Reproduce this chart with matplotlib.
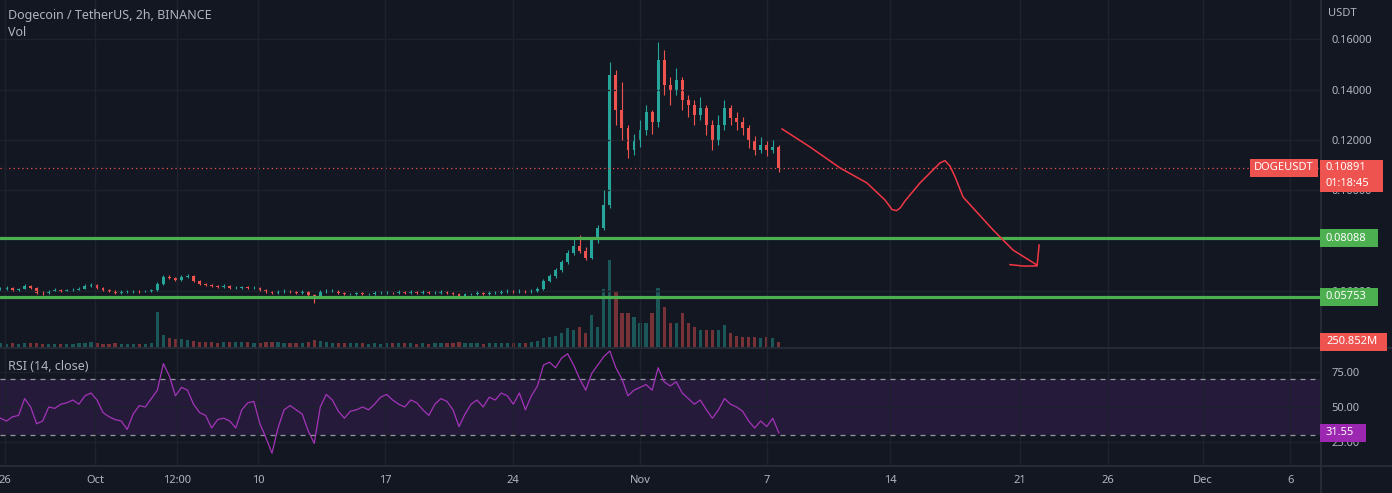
import matplotlib
matplotlib.use("Agg")
import matplotlib.pyplot as plt
import matplotlib.transforms as mtransforms
from matplotlib.patches import Rectangle
from matplotlib.lines import Line2D
from matplotlib.ticker import FormatStrFormatter
import numpy as np

plt.rcParams['font.family'] = ['Noto Sans', 'DejaVu Sans']

# 8h candles (DOGE/USDT)
first_open = 0.0606
close = [0.0608, 0.0612, 0.0604, 0.0608, 0.0620, 0.0612, 0.0592, 0.0590, 0.0600, 0.0604,
         0.0600, 0.0603, 0.0604, 0.0608, 0.0620, 0.0624, 0.0612, 0.0604, 0.0600, 0.0592,
         0.0596, 0.0596, 0.0600, 0.0597, 0.0600, 0.0601, 0.0628, 0.0656, 0.0652, 0.0644,
         0.0656, 0.0660, 0.0640, 0.0628, 0.0624, 0.0620, 0.0616, 0.0620, 0.0612, 0.0612,
         0.0616, 0.0612, 0.0612, 0.0604, 0.0596, 0.0592, 0.0596, 0.0600, 0.0596, 0.0592,
         0.0596, 0.0584, 0.0576, 0.0596, 0.0600, 0.0600, 0.0592, 0.0588, 0.0588, 0.0590,
         0.0588, 0.0588, 0.0592, 0.0592, 0.0592, 0.0590, 0.0596, 0.0592, 0.0596, 0.0592,
         0.0596, 0.0592, 0.0592, 0.0596, 0.0592, 0.0588, 0.0580, 0.0588, 0.0588, 0.0592,
         0.0588, 0.0592, 0.0592, 0.0596, 0.0600, 0.0596, 0.0600, 0.0596, 0.0600, 0.0608,
         0.0640, 0.0660, 0.0684, 0.0716, 0.0752, 0.0780, 0.0760, 0.0732, 0.0800, 0.0848,
         0.0940, 0.1460, 0.1320, 0.1248, 0.1160, 0.1200, 0.1240, 0.1312, 0.1272, 0.1520,
         0.1420, 0.1400, 0.1440, 0.1360, 0.1340, 0.1300, 0.1328, 0.1260, 0.1200, 0.1260,
         0.1328, 0.1288, 0.1272, 0.1248, 0.1200, 0.1160, 0.1180, 0.1160, 0.1172, 0.10891]
high = [0.0614, 0.0618, 0.0616, 0.0612, 0.0626, 0.0624, 0.0615, 0.0597, 0.0604, 0.0609,
        0.0608, 0.0607, 0.0609, 0.0613, 0.0626, 0.0630, 0.0627, 0.0615, 0.0608, 0.0603,
        0.0601, 0.0601, 0.0604, 0.0604, 0.0604, 0.0606, 0.0636, 0.0664, 0.0662, 0.0656,
        0.0662, 0.0666, 0.0664, 0.0644, 0.0632, 0.0628, 0.0624, 0.0625, 0.0623, 0.0617,
        0.0620, 0.0619, 0.0618, 0.0615, 0.0607, 0.0600, 0.0601, 0.0605, 0.0603, 0.0600,
        0.0601, 0.0599, 0.0588, 0.0601, 0.0606, 0.0605, 0.0603, 0.0596, 0.0593, 0.0595,
        0.0594, 0.0593, 0.0597, 0.0597, 0.0597, 0.0596, 0.0601, 0.0600, 0.0601, 0.0599,
        0.0602, 0.0599, 0.0597, 0.0601, 0.0600, 0.0596, 0.0591, 0.0592, 0.0593, 0.0597,
        0.0596, 0.0598, 0.0597, 0.0601, 0.0605, 0.0604, 0.0605, 0.0603, 0.0605, 0.0614,
        0.0648, 0.0668, 0.0692, 0.0724, 0.0764, 0.0812, 0.0820, 0.0776, 0.0812, 0.0860,
        0.1000, 0.1512, 0.1480, 0.1432, 0.1260, 0.1224, 0.1280, 0.1340, 0.1320, 0.1592,
        0.1560, 0.1450, 0.1488, 0.1452, 0.1380, 0.1360, 0.1370, 0.1340, 0.1280, 0.1300,
        0.1360, 0.1340, 0.1310, 0.1290, 0.1260, 0.1216, 0.1210, 0.1196, 0.1200, 0.1180]
low = [0.0601, 0.0604, 0.0600, 0.0600, 0.0605, 0.0608, 0.0586, 0.0585, 0.0587, 0.0597,
       0.0596, 0.0597, 0.0599, 0.0601, 0.0605, 0.0616, 0.0608, 0.0600, 0.0595, 0.0586,
       0.0589, 0.0592, 0.0592, 0.0593, 0.0594, 0.0596, 0.0598, 0.0624, 0.0646, 0.0638,
       0.0640, 0.0650, 0.0636, 0.0624, 0.0619, 0.0615, 0.0611, 0.0612, 0.0608, 0.0607,
       0.0608, 0.0607, 0.0607, 0.0599, 0.0590, 0.0586, 0.0589, 0.0592, 0.0591, 0.0587,
       0.0588, 0.0578, 0.0553, 0.0572, 0.0592, 0.0595, 0.0588, 0.0584, 0.0584, 0.0585,
       0.0584, 0.0584, 0.0585, 0.0588, 0.0587, 0.0586, 0.0587, 0.0588, 0.0589, 0.0588,
       0.0589, 0.0588, 0.0588, 0.0589, 0.0588, 0.0584, 0.0576, 0.0577, 0.0584, 0.0585,
       0.0584, 0.0585, 0.0588, 0.0589, 0.0592, 0.0592, 0.0592, 0.0592, 0.0593, 0.0596,
       0.0604, 0.0634, 0.0652, 0.0676, 0.0708, 0.0744, 0.0752, 0.0724, 0.0728, 0.0792,
       0.0840, 0.0930, 0.1260, 0.1200, 0.1128, 0.1140, 0.1172, 0.1220, 0.1224, 0.1250,
       0.1380, 0.1340, 0.1380, 0.1320, 0.1290, 0.1260, 0.1280, 0.1220, 0.1160, 0.1180,
       0.1240, 0.1260, 0.1240, 0.1220, 0.1170, 0.1140, 0.1148, 0.1136, 0.1150, 0.1072]
volume_m = [180, 170, 190, 160, 200, 180, 210, 170, 160, 170,
            160, 150, 170, 180, 220, 240, 190, 170, 160, 180,
            170, 160, 170, 160, 170, 180, 1750, 600, 450, 380,
            420, 360, 300, 260, 240, 230, 220, 240, 260, 230,
            250, 230, 220, 210, 230, 260, 240, 220, 210, 200,
            220, 260, 340, 280, 230, 210, 200, 190, 180, 190,
            180, 170, 180, 170, 180, 190, 200, 190, 180, 170,
            180, 170, 180, 190, 200, 210, 260, 220, 190, 180,
            170, 180, 190, 200, 190, 180, 200, 220, 260, 300,
            450, 520, 560, 700, 950, 850, 1000, 700, 1600, 1000,
            2900, 4350, 2800, 1700, 1700, 1500, 1200, 1200, 1700, 2950,
            2000, 1200, 1200, 1700, 1200, 1000, 850, 850, 850, 850,
            1100, 700, 550, 500, 500, 500, 450, 500, 450, 250.852]
rsi = [42, 40, 43, 44, 56, 50, 38, 40, 50, 49,
       52, 53, 55, 52, 58, 60, 55, 46, 43, 41,
       40, 34, 45, 51, 50, 56, 62, 81, 72, 58,
       64, 62, 52, 46, 44, 35, 41, 42, 40, 35,
       48, 53, 54, 38, 28, 17, 35, 48, 51, 48,
       45, 33, 24, 50, 59, 55, 47, 42, 47, 48,
       50, 48, 52, 57, 59, 55, 52, 50, 55, 53,
       48, 44, 52, 56, 54, 48, 36, 45, 52, 55,
       50, 57, 55, 60, 58, 52, 60, 48, 58, 65,
       80, 82, 78, 85, 88, 80, 70, 62, 74, 80,
       86, 90, 78, 70, 58, 62, 64, 66, 62, 78,
       68, 65, 68, 60, 56, 52, 55, 48, 42, 48,
       56, 52, 50, 47, 40, 35, 40, 36, 42, 31.55]

# x axis labels (days from Sep 26)
tick_days = [0, 4.97, 9.5, 13.98, 21.0, 28.07, 35.08, 42.1, 48.9, 56.08, 60.94, 66.19, 71.0]
tick_labels = ['26', 'Oct', '12:00', '10', '17', '24', 'Nov', '7', '14', '21', '26', 'Dec', '6']

price_ticks = [0.06, 0.10, 0.12, 0.14, 0.16]   # 0.08000 is hidden behind a tag
support_levels = [0.08088, 0.05753]
last_price = 0.10891
countdown = '01:18:45'

# hand drawn projection (day, price)
sketch_day = [42.93, 44.48, 46.13, 47.62, 48.62, 49.01, 49.25, 49.45, 49.72, 50.55, 51.66,
              51.93, 52.21, 52.49, 52.93, 54.59, 55.69, 57.02]
sketch_price = [0.1244, 0.1172, 0.1089, 0.1029, 0.0961, 0.0923, 0.0919, 0.0929, 0.0957, 0.1029, 0.1109,
                0.1118, 0.1096, 0.1053, 0.0973, 0.0842, 0.0762, 0.0702]
arrow_day = [55.52, 56.3, 57.02, 57.13]
arrow_price = [0.0704, 0.0698, 0.0699, 0.0782]

BG = '#131722'
GRID = '#1e222d'
SEP = '#2a2e39'
TXT = '#b2b5be'
UP = '#26a69a'
DN = '#ef5350'
GREEN = '#4caf50'
PURPLE = '#9c27b0'

W, H = 1392, 493
n = len(close)
x = -0.25 + np.arange(n) / 3.0
opens = np.array([first_open] + close[:-1])
close_a = np.array(close)
up = close_a >= opens
cols = np.where(up, UP, DN)

fig = plt.figure(figsize=(W / 100, H / 100), dpi=100, facecolor=BG)
ax = fig.add_axes([0, 1 - 347 / H, 1320 / W, 347 / H])
axr = fig.add_axes([0, 1 - 465 / H, 1320 / W, 116 / H], sharex=ax)
axv = ax.twinx()
ax.set_zorder(axv.get_zorder() + 1)
ax.patch.set_visible(False)
axr.set_facecolor(BG)

# volume
axv.bar(x, volume_m, width=0.18, color=cols, alpha=0.45, linewidth=0)
axv.set_ylim(0, 17350)
axv.set_yticks([])
for s in axv.spines.values():
    s.set_visible(False)

# candles
ax.vlines(x, low, high, colors=cols, linewidth=0.8)
ax.bar(x, np.abs(close_a - opens), bottom=np.minimum(close_a, opens), width=0.16,
       color=cols, linewidth=0)

for lv in support_levels:
    ax.axhline(lv, color=GREEN, linewidth=2.3, zorder=4)
ax.axhline(last_price, color=DN, linewidth=0.9, linestyle=(0, (1, 2.5)), zorder=1)
ax.plot(sketch_day, sketch_price, color='#f23645', linewidth=1.1, zorder=5)
ax.plot(arrow_day, arrow_price, color='#f23645', linewidth=1.1, zorder=5)

ax.set_xlim(-0.276, 72.65)
ax.set_ylim(0.03761, 0.17572)
ax.yaxis.tick_right()
ax.set_yticks(price_ticks)
ax.yaxis.set_major_formatter(FormatStrFormatter('%.5f'))
ax.tick_params(axis='y', length=0, pad=8, labelcolor=TXT, labelsize=8)
ax.tick_params(axis='x', length=0, labelbottom=False)
ax.set_xticks(tick_days)
ax.grid(True, color=GRID, linewidth=1)
for s in ax.spines.values():
    s.set_visible(False)

# RSI pane
axr.axhspan(30, 70, color='#261a3b', zorder=0, linewidth=0)
axr.axhline(70, color='#9598a1', linewidth=0.9, linestyle=(0, (4, 4)), zorder=2)
axr.axhline(30, color='#9598a1', linewidth=0.9, linestyle=(0, (4, 4)), zorder=2)
axr.plot(x, rsi, color='#a334b8', linewidth=0.9, zorder=3)
axr.set_ylim(8.57, 91.43)
axr.yaxis.tick_right()
axr.set_yticks([25, 50, 75])
axr.yaxis.set_major_formatter(FormatStrFormatter('%.2f'))
axr.tick_params(axis='y', length=0, pad=8, labelcolor=TXT, labelsize=8)
axr.set_xticks(tick_days)
axr.set_xticklabels(tick_labels)
axr.tick_params(axis='x', length=0, pad=7, labelcolor=TXT, labelsize=8)
axr.grid(True, color=GRID, linewidth=1)
for s in axr.spines.values():
    s.set_visible(False)

# pane separators
for yy in (1 - 348 / H, 1 - 465.5 / H):
    fig.add_artist(Line2D([0, 1], [yy, yy], color=SEP, linewidth=1.2))
fig.add_artist(Line2D([1320.5 / W, 1320.5 / W], [0, 1], color=SEP, linewidth=1.2))

# titles
fig.text(8 / W, 1 - 15 / H, 'Dogecoin / TetherUS, 2h, BINANCE', color=TXT, fontsize=9, va='center')
fig.text(8 / W, 1 - 33 / H, 'Vol', color=TXT, fontsize=9, va='center')
fig.text(8 / W, 1 - 366 / H, 'RSI (14, close)', color=TXT, fontsize=9, va='center')
fig.text(1328 / W, 1 - 14 / H, 'USDT', color=TXT, fontsize=8, va='center')

# value tags on the scale
fig.canvas.draw()
ident = mtransforms.IdentityTransform()


def tag(axis, value, label, color, x0, x1, up_px=9, down_px=9, text_x=None, ha='left'):
    y = axis.transData.transform((0, value))[1]
    fig.add_artist(Rectangle((x0, y - down_px), x1 - x0, up_px + down_px, transform=ident,
                             facecolor=color, edgecolor='none', zorder=20))
    tx = text_x if text_x is not None else x0 + 6
    fig.text(tx, y, label, transform=ident, color='white', fontsize=8, va='center', ha=ha,
             zorder=21)
    return y


tag(ax, last_price, 'DOGEUSDT', DN, 1250, 1318, text_x=1284, ha='center')
y_last = tag(ax, last_price, '%.5f' % last_price, DN, 1320, 1383, up_px=8, down_px=24)
fig.text(1326, y_last - 16, countdown, transform=ident, color='white', fontsize=8, va='center',
         zorder=21)
for lv in support_levels:
    tag(ax, lv, '%.5f' % lv, GREEN, 1320, 1378)
tag(axv, volume_m[-1], '250.852M', DN, 1320, 1387)
tag(axr, rsi[-1], '%.2f' % rsi[-1], PURPLE, 1320, 1366)

fig.savefig('out.png', dpi=100, facecolor=BG)
